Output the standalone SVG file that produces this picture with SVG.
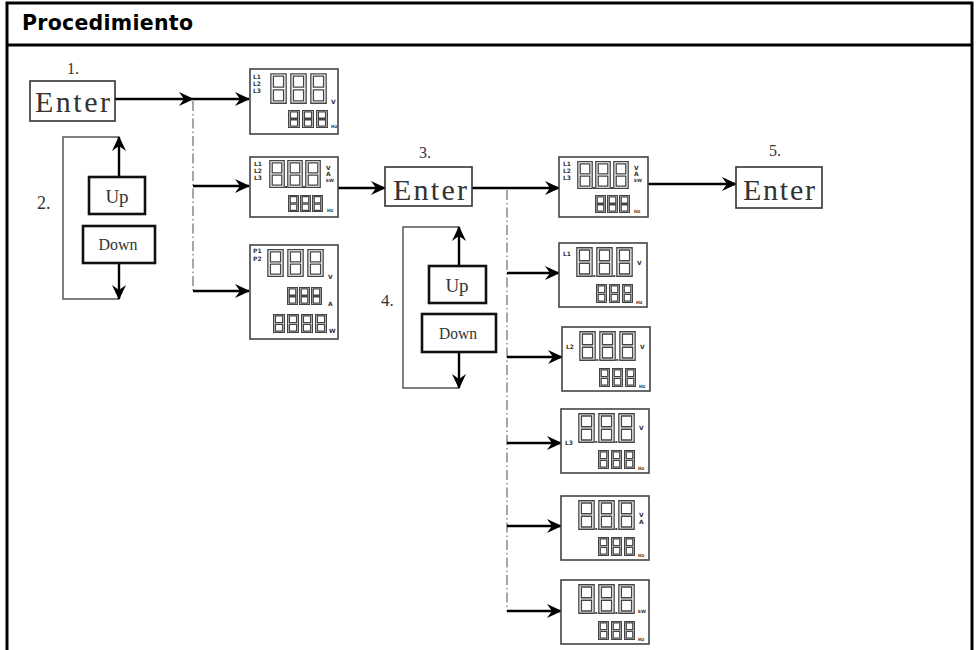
<svg xmlns="http://www.w3.org/2000/svg" xmlns:xlink="http://www.w3.org/1999/xlink" width="977" height="650" viewBox="0 0 977 650">
<style>
.frame{fill:none;stroke:#000;stroke-width:3}
.btn{fill:#fff;stroke:#333;stroke-width:1.6}
.key{fill:#fff;stroke:#111;stroke-width:2.6}
.disp{fill:#fff;stroke:#444;stroke-width:1.6}
.conn{fill:none;stroke:#000;stroke-width:2.4}
.loop{fill:none;stroke:#555;stroke-width:1.5}
.dd{fill:none;stroke:#777;stroke-width:1.3;stroke-dasharray:10 3 1.5 3}
.ser{font-family:"Liberation Serif","Times New Roman",serif;fill:#333}
.ent{font-size:30px}
.step{font-size:16px}
.tiny{font-family:"DejaVu Sans",Verdana,sans-serif;font-weight:bold;font-size:6px;fill:#333}
.hz{font-family:"DejaVu Sans",Verdana,sans-serif;font-weight:bold;font-size:4.5px;fill:#333}
.seg{fill:none;stroke:#444;stroke-width:1.3}
.dp{fill:#444}
</style>
<defs>
<marker id="ah" markerUnits="userSpaceOnUse" markerWidth="16" markerHeight="14" refX="14" refY="7" orient="auto">
<path d="M0,0 L15,7 L0,14 L5,7 Z" fill="#000"/>
</marker>
<symbol id="dg" viewBox="0 0 12 24" preserveAspectRatio="none">
<rect class="seg" x="0.6" y="0.6" width="10.8" height="22.8" vector-effect="non-scaling-stroke"/>
<rect class="seg" x="2.4" y="2.4" width="7.2" height="8.6" vector-effect="non-scaling-stroke"/>
<rect class="seg" x="2.4" y="13" width="7.2" height="8.6" vector-effect="non-scaling-stroke"/>
</symbol>
<g id="panelB">
<rect class="disp" x="0" y="0" width="88" height="64"/>
<use href="#dg" x="17" y="4" width="17" height="30"/>
<use href="#dg" x="37" y="4" width="17" height="30"/>
<use href="#dg" x="57" y="4" width="17" height="30"/>
<rect class="dp" x="34.3" y="32" width="2" height="2"/>
<rect class="dp" x="54.3" y="32" width="2" height="2"/>
<use href="#dg" x="37" y="41" width="11" height="19"/>
<use href="#dg" x="50" y="41" width="11" height="19"/>
<use href="#dg" x="63" y="41" width="11" height="19"/>
<text class="hz" x="77" y="61">Hz</text>
</g>
</defs>

<rect width="977" height="650" fill="#fff"/>
<g id="frame">
<rect class="frame" x="7" y="3" width="965" height="680"/>
<line class="frame" x1="7" y1="45" x2="972" y2="45"/>
<text x="22" y="30" font-family="'DejaVu Sans',Verdana,sans-serif" font-weight="bold" font-size="20.5" fill="#000" textLength="171">Procedimiento</text>
</g>

<g id="connectors">
<path class="conn" d="M115,99 H193" marker-end="url(#ah)"/>
<path class="conn" d="M193,99 H249" marker-end="url(#ah)"/>
<path class="dd" d="M193,101 V291"/>
<path class="conn" d="M193,186 H249" marker-end="url(#ah)"/>
<path class="conn" d="M193,291 H249" marker-end="url(#ah)"/>
<path class="conn" d="M338,188 H385" marker-end="url(#ah)"/>
<path class="conn" d="M472,188 H559" marker-end="url(#ah)"/>
<path class="dd" d="M507,190 V611"/>
<path class="conn" d="M507,273 H559" marker-end="url(#ah)"/>
<path class="conn" d="M507,357 H562" marker-end="url(#ah)"/>
<path class="conn" d="M507,443 H561" marker-end="url(#ah)"/>
<path class="conn" d="M507,526 H561" marker-end="url(#ah)"/>
<path class="conn" d="M507,611 H561" marker-end="url(#ah)"/>
<path class="conn" d="M648,184 H736" marker-end="url(#ah)"/>
<path class="loop" d="M119,137 H63 V299 H119"/>
<path class="conn" stroke-width="2" d="M119,177 V137" marker-end="url(#ah)"/>
<path class="conn" stroke-width="2" d="M119,263 V299" marker-end="url(#ah)"/>
<path class="loop" d="M459,227 H403 V388 H459"/>
<path class="conn" stroke-width="2" d="M459,266 V227" marker-end="url(#ah)"/>
<path class="conn" stroke-width="2" d="M459,352 V388" marker-end="url(#ah)"/>
</g>

<g id="enter1">
<text class="ser step" x="67" y="74">1.</text>
<rect class="btn" x="30" y="81" width="85" height="40"/>
<text class="ser ent" x="35" y="112" textLength="75" lengthAdjust="spacing">Enter</text>
</g>

<g id="step2">
<text class="ser" font-size="18" x="37" y="209">2.</text>
</g>
<g id="up1">
<rect class="key" x="89" y="177" width="56" height="37"/>
<text class="ser" font-size="19" x="117" y="203" text-anchor="middle">Up</text>
</g>
<g id="down1">
<rect class="key" x="83" y="226" width="72" height="37"/>
<text class="ser" font-size="16" x="118" y="250" text-anchor="middle" textLength="39" lengthAdjust="spacingAndGlyphs">Down</text>
</g>

<g id="display1">
<rect class="disp" x="250" y="69" width="88" height="65"/>
<text class="tiny" x="253" y="79">L1</text>
<text class="tiny" x="253" y="86">L2</text>
<text class="tiny" x="253" y="93">L3</text>
<use href="#dg" x="270" y="73" width="17" height="31"/>
<use href="#dg" x="290" y="73" width="17" height="31"/>
<use href="#dg" x="310" y="73" width="17" height="31"/>
<text class="tiny" x="331" y="104">V</text>
<use href="#dg" x="288" y="110" width="12" height="18"/>
<use href="#dg" x="302" y="110" width="12" height="18"/>
<use href="#dg" x="316" y="110" width="12" height="18"/>
<text class="hz" x="331" y="128">Hz</text>
</g>

<g id="display2">
<rect class="disp" x="250" y="157" width="88" height="60"/>
<text class="tiny" x="254" y="166">L1</text>
<text class="tiny" x="254" y="173">L2</text>
<text class="tiny" x="254" y="180">L3</text>
<use href="#dg" x="269" y="160" width="16" height="28"/>
<use href="#dg" x="287" y="160" width="16" height="28"/>
<use href="#dg" x="305" y="160" width="16" height="28"/>
<rect class="dp" x="285" y="186" width="2" height="2"/>
<rect class="dp" x="303" y="186" width="2" height="2"/>
<text class="tiny" x="326" y="170">V</text>
<text class="tiny" x="326" y="176">A</text>
<text class="hz" x="326" y="182">kW</text>
<use href="#dg" x="288" y="195" width="11" height="17"/>
<use href="#dg" x="300" y="195" width="11" height="17"/>
<use href="#dg" x="312" y="195" width="11" height="17"/>
<text class="hz" x="327" y="212">Hz</text>
</g>

<g id="display3">
<rect class="disp" x="250" y="245" width="88" height="94"/>
<text class="tiny" x="253" y="253">P1</text>
<text class="tiny" x="253" y="261">P2</text>
<use href="#dg" x="267" y="249" width="17" height="28"/>
<use href="#dg" x="287" y="249" width="17" height="28"/>
<use href="#dg" x="307" y="249" width="17" height="28"/>
<text class="tiny" x="328" y="279">V</text>
<use href="#dg" x="287" y="287" width="11" height="18"/>
<use href="#dg" x="299" y="287" width="11" height="18"/>
<use href="#dg" x="311" y="287" width="11" height="18"/>
<text class="tiny" x="328" y="306">A</text>
<use href="#dg" x="273" y="314" width="12" height="19"/>
<use href="#dg" x="287" y="314" width="12" height="19"/>
<use href="#dg" x="301" y="314" width="12" height="19"/>
<use href="#dg" x="315" y="314" width="12" height="19"/>
<text class="tiny" x="329" y="333">W</text>
</g>

<g id="enter3">
<text class="ser step" x="419" y="158">3.</text>
<rect class="btn" x="385" y="167" width="87" height="39"/>
<text class="ser ent" x="393" y="200" textLength="74" lengthAdjust="spacing">Enter</text>
</g>

<g id="step4">
<text class="ser" font-size="17" x="381" y="306">4.</text>
</g>
<g id="up2">
<rect class="key" x="429" y="266" width="57" height="37"/>
<text class="ser" font-size="19" x="457" y="292" text-anchor="middle">Up</text>
</g>
<g id="down2">
<rect class="key" x="422" y="314" width="74" height="38"/>
<text class="ser" font-size="16" x="458" y="339" text-anchor="middle" textLength="38" lengthAdjust="spacingAndGlyphs">Down</text>
</g>

<g id="display4">
<rect class="disp" x="559" y="157" width="89" height="60"/>
<text class="tiny" x="563" y="166">L1</text>
<text class="tiny" x="563" y="173">L2</text>
<text class="tiny" x="563" y="180">L3</text>
<use href="#dg" x="577" y="161" width="16" height="28"/>
<use href="#dg" x="595" y="161" width="16" height="28"/>
<use href="#dg" x="613" y="161" width="16" height="28"/>
<rect class="dp" x="593" y="187" width="2" height="2"/>
<rect class="dp" x="611" y="187" width="2" height="2"/>
<text class="tiny" x="634" y="170">V</text>
<text class="tiny" x="634" y="176">A</text>
<text class="hz" x="634" y="182">kW</text>
<use href="#dg" x="595" y="195" width="11" height="18"/>
<use href="#dg" x="607" y="195" width="11" height="18"/>
<use href="#dg" x="619" y="195" width="11" height="18"/>
<text class="hz" x="634" y="213">Hz</text>
</g>

<g id="enter5">
<text class="ser step" x="769" y="156">5.</text>
<rect class="btn" x="736" y="167" width="86" height="41"/>
<text class="ser ent" x="743" y="200" textLength="72" lengthAdjust="spacing">Enter</text>
</g>

<g id="displayL1" transform="translate(559,243)">
<use href="#panelB"/>
<text class="tiny" x="4" y="13">L1</text>
<text class="tiny" x="78" y="22">V</text>
</g>
<g id="displayL2" transform="translate(562,327)">
<use href="#panelB"/>
<text class="tiny" x="4" y="22">L2</text>
<text class="tiny" x="78" y="22">V</text>
</g>
<g id="displayL3" transform="translate(561,409)">
<use href="#panelB"/>
<text class="tiny" x="4" y="36">L3</text>
<text class="tiny" x="78" y="21">V</text>
</g>
<g id="displayVA" transform="translate(561,496)">
<use href="#panelB"/>
<text class="tiny" x="78" y="21">V</text>
<text class="tiny" x="78" y="28">A</text>
</g>
<g id="displayKW" transform="translate(561,580)">
<use href="#panelB"/>
<text class="hz" x="77" y="33">kW</text>
</g>
</svg>
